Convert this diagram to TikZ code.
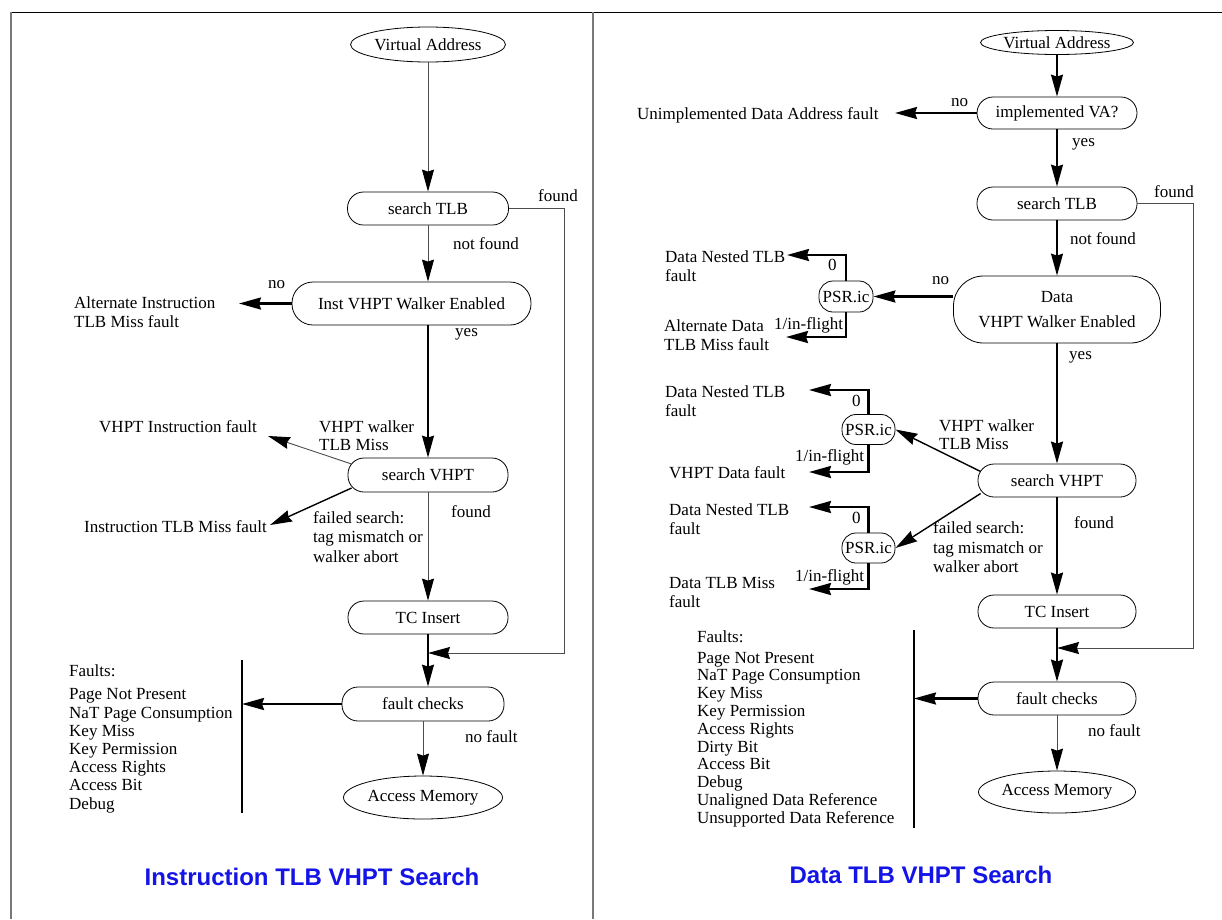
\documentclass[tikz,border=0pt]{standalone}
\usepackage{fontspec}
\setmainfont{Liberation Serif}
\newfontfamily\titlefont{Liberation Sans}
\usetikzlibrary{arrows.meta,shapes.geometric}
\definecolor{titleblue}{RGB}{20,20,230}
\definecolor{framegray}{RGB}{120,120,120}
\begin{document}
\begin{tikzpicture}[x=1pt,y=-1pt,
  every node/.style={font=\fontsize{17}{19}\selectfont, inner sep=0pt},
  txt/.style={anchor=west, align=left},
  stadium/.style={draw, line width=0.8pt, rounded corners=16pt, minimum height=33pt},
  oval/.style={draw, line width=0.8pt, ellipse},
  thinln/.style={line width=0.9pt, black!70},
  midln/.style={line width=1.4pt},
  thickln/.style={line width=2.2pt},
  arr/.style={-{Stealth[length=22pt,width=12pt,inset=2pt,color=black]}},
  faultlist/.style={anchor=west, align=left},
  titletxt/.style={font=\titlefont\bfseries\fontsize{24}{28}\selectfont, text=titleblue},
]
\useasboundingbox (0,0) rectangle (1222,919);
% frame
\draw[line width=1pt] (11,12) -- (1222,12);
\draw[framegray, line width=1.5pt] (11,12) -- (11,919);
\draw[framegray, line width=2pt] (593,12) -- (593,919);

% ---------------- left panel ----------------
\node[oval, minimum width=155pt, minimum height=35pt] (lva) at (428,44.5) {Virtual Address};
\node[stadium, minimum width=161pt] (ltlb) at (428,208.5) {search TLB};
\node[stadium, rounded corners=21pt, minimum width=239pt, minimum height=43pt] (linst) at (411.5,303.5) {Inst VHPT Walker Enabled};
\node[stadium, minimum width=160pt, minimum height=34pt] (lvhpt) at (428,475) {search VHPT};
\node[stadium, minimum width=160pt] (ltc) at (428,617.5) {TC Insert};
\node[stadium, minimum width=162pt, minimum height=34pt] (lfc) at (423,704) {fault checks};
\node[oval, minimum width=159pt, minimum height=43pt] (lmem) at (423,797.5) {Access Memory};

\coordinate (lalt) at (239,303.5);
\coordinate (lvif) at (268,436);
\coordinate (litm) at (270,525);
\coordinate (lmerge) at (428,653);
\coordinate (lfound) at (564,653);
\coordinate (lbartop) at (242,660);
\coordinate (lbarbot) at (242,813);

\draw[thinln,arr] (lva.south) -- (ltlb.north);
\draw[thinln,arr] (ltlb.south) -- (ltlb.south |- linst.north);
\draw[thickln,arr] (linst.west) -- (lalt);
\draw[midln,arr] (lvhpt.north |- linst.south) -- (lvhpt.north);
\draw[thinln,arr] ([shift={(4,-11)}]lvhpt.west) -- (lvif);
\draw[midln,arr] ([shift={(4,13)}]lvhpt.west) -- (litm);
\draw[thinln,arr] (lvhpt.south) -- (ltc.north);
\draw[thinln,arr] (ltlb.east) -| (lfound) -- (lmerge);
\draw[midln] (ltc.south) -- (lmerge);
\draw[midln,arr] (lmerge) -- (lmerge |- lfc.north);
\draw[thickln] (lbartop) -- (lbarbot);
\draw[thickln,arr] (lfc.west) -- (lfc.west -| lbartop);
\draw[thinln,arr] (lfc.south) -- (lmem.north);

\node[txt] (lfoundT) at (538,196) {found};
\node[txt] (lnotfound) at (453,244) {not found};
\node[txt] (lno) at (268,285) {no};
\node[txt] (lalttxt) at (74,312) {Alternate Instruction\\TLB Miss fault};
\node[txt] (lyes) at (455,334) {yes};
\node[txt, font=\fontsize{17}{18}\selectfont] (lwalk) at (319,436) {VHPT walker\\TLB Miss};
\node[txt] (lvifT) at (99,427) {VHPT Instruction fault};
\node[txt] (litmT) at (84,527) {Instruction TLB Miss fault};
\node[txt, font=\fontsize{17}{19.5}\selectfont] (lfail) at (313,537) {failed search:\\tag mismatch or\\walker abort};
\node[txt] (lfound2) at (451,512) {found};
\node[txt] (lnofault) at (465,737) {no fault};
\node[faultlist, font=\fontsize{17}{18.2}\selectfont] (lfaults) at (69,739) {Faults:\\[4.8pt]Page Not Present\\NaT Page Consumption\\Key Miss\\Key Permission\\Access Rights\\Access Bit\\Debug};
\node[titletxt] (ltitle) at (312,877) {Instruction TLB VHPT Search};

% ---------------- right panel ----------------
\node[oval, minimum width=153pt, minimum height=24pt] (rva) at (1057,42.5) {Virtual Address};
\node[stadium, minimum width=160pt, minimum height=32pt] (rimpl) at (1057,113) {implemented VA?};
\node[stadium, minimum width=160pt] (rtlb) at (1057,203.5) {search TLB};
\node[stadium, rounded corners=30pt, minimum width=207pt, minimum height=67pt, align=center, font=\fontsize{17}{25}\selectfont] (rdata) at (1057,309.5) {Data\\VHPT Walker Enabled};
\node[stadium, minimum width=158pt] (rvhpt) at (1057,480.5) {search VHPT};
\node[stadium, minimum width=158pt] (rtc) at (1057,611.5) {TC Insert};
\node[stadium, minimum width=158pt] (rfc) at (1057,698.5) {fault checks};
\node[oval, minimum width=157pt, minimum height=42pt] (rmem) at (1057,792) {Access Memory};
\node[stadium, rounded corners=14pt, minimum width=54pt, minimum height=31pt] (psr1) at (846,296.5) {PSR.ic};
\node[stadium, rounded corners=14pt, minimum width=53pt, minimum height=30pt] (psr2) at (868.5,429.5) {PSR.ic};
\node[stadium, rounded corners=14pt, minimum width=53pt, minimum height=30pt] (psr3) at (868.5,548) {PSR.ic};

\coordinate (runimp) at (895,113);
\coordinate (rdn1) at (787,255);
\coordinate (ralt) at (786,337);
\coordinate (rdn2) at (809,390);
\coordinate (rvdf) at (809,472);
\coordinate (rdn3) at (809,507);
\coordinate (rdtm) at (809,589);
\coordinate (rmerge) at (1057,648);
\coordinate (rfound) at (1193,648);
\coordinate (rbartop) at (914,630);
\coordinate (rbarbot) at (914,828);

\draw[midln,arr] (rva.south) -- (rimpl.north);
\draw[thickln,arr] (rimpl.west) -- (runimp);
\draw[midln,arr] (rimpl.south) -- (rtlb.north);
\draw[midln,arr] (rtlb.south) -- (rdata.north);
\draw[thickln,arr] (psr1.east -| rdata.west) -- (psr1.east);
\draw[thickln,arr] (psr1.north) |- (rdn1);
\draw[thickln,arr] (psr1.south) |- (ralt);
\draw[thickln,arr] (rdata.south) -- (rvhpt.north);
\draw[midln,arr] ([shift={(3,-9)}]rvhpt.west) -- (psr2.east);
\draw[midln,arr] ([shift={(3,13)}]rvhpt.west) -- (psr3.east);
\draw[thickln,arr] (psr2.north) |- (rdn2);
\draw[thickln,arr] (psr2.south) |- (rvdf);
\draw[thickln,arr] (psr3.north) |- (rdn3);
\draw[thickln,arr] (psr3.south) |- (rdtm);
\draw[thickln,arr] (rvhpt.south) -- (rtc.north);
\draw[thinln,arr] (rtlb.east) -| (rfound) -- (rmerge);
\draw[thickln] (rtc.south) -- (rmerge);
\draw[thickln,arr] (rmerge) -- (rfc.north);
\draw[thickln] (rbartop) -- (rbarbot);
\draw[thickln,arr] (rfc.west) -- (rfc.west -| rbartop);
\draw[thinln,arr] (rfc.south) -- (rmem.north);

\node[txt] (rnoA) at (951,103) {no};
\node[txt] (runimpT) at (637,115) {Unimplemented Data Address fault};
\node[txt] (ryesA) at (1072,144) {yes};
\node[txt] (rfoundA) at (1154,192) {found};
\node[txt] (rnotfound) at (1070,239) {not found};
\node[txt] (rnoB) at (932,281) {no};
\node[txt] (r0a) at (828,265) {0};
\node[txt] (rdn1T) at (665,266.5) {Data Nested TLB\\fault};
\node[txt] (r1a) at (774,325) {1/in-flight};
\node[txt] (raltT) at (664,335) {Alternate Data\\TLB Miss fault};
\node[txt] (ryesB) at (1069,357) {yes};
\node[txt] (r0b) at (852,401) {0};
\node[txt] (rdn2T) at (665,401.5) {Data Nested TLB\\fault};
\node[txt, font=\fontsize{17}{18}\selectfont] (rwalk) at (939,434.5) {VHPT walker\\TLB Miss};
\node[txt] (r1b) at (795,457) {1/in-flight};
\node[txt] (rvdfT) at (669,473) {VHPT Data fault};
\node[txt] (r0c) at (852,518) {0};
\node[txt] (rdn3T) at (669,519.5) {Data Nested TLB\\fault};
\node[txt, font=\fontsize{17}{19.5}\selectfont] (rfail) at (933,547.5) {failed search:\\tag mismatch or\\walker abort};
\node[txt] (rfoundB) at (1074,523) {found};
\node[txt] (r1c) at (795,577) {1/in-flight};
\node[txt] (rdtmT) at (669,592.5) {Data TLB Miss\\fault};
\node[faultlist, font=\fontsize{17}{17.8}\selectfont] (rfaults) at (697,728.5) {Faults:\\[3.2pt]Page Not Present\\NaT Page Consumption\\Key Miss\\Key Permission\\Access Rights\\Dirty Bit\\Access Bit\\Debug\\Unaligned Data Reference\\Unsupported Data Reference};
\node[txt] (rnofault) at (1088,731) {no fault};
\node[titletxt] (rtitle) at (921,875) {Data TLB VHPT Search};
\end{tikzpicture}
\end{document}
